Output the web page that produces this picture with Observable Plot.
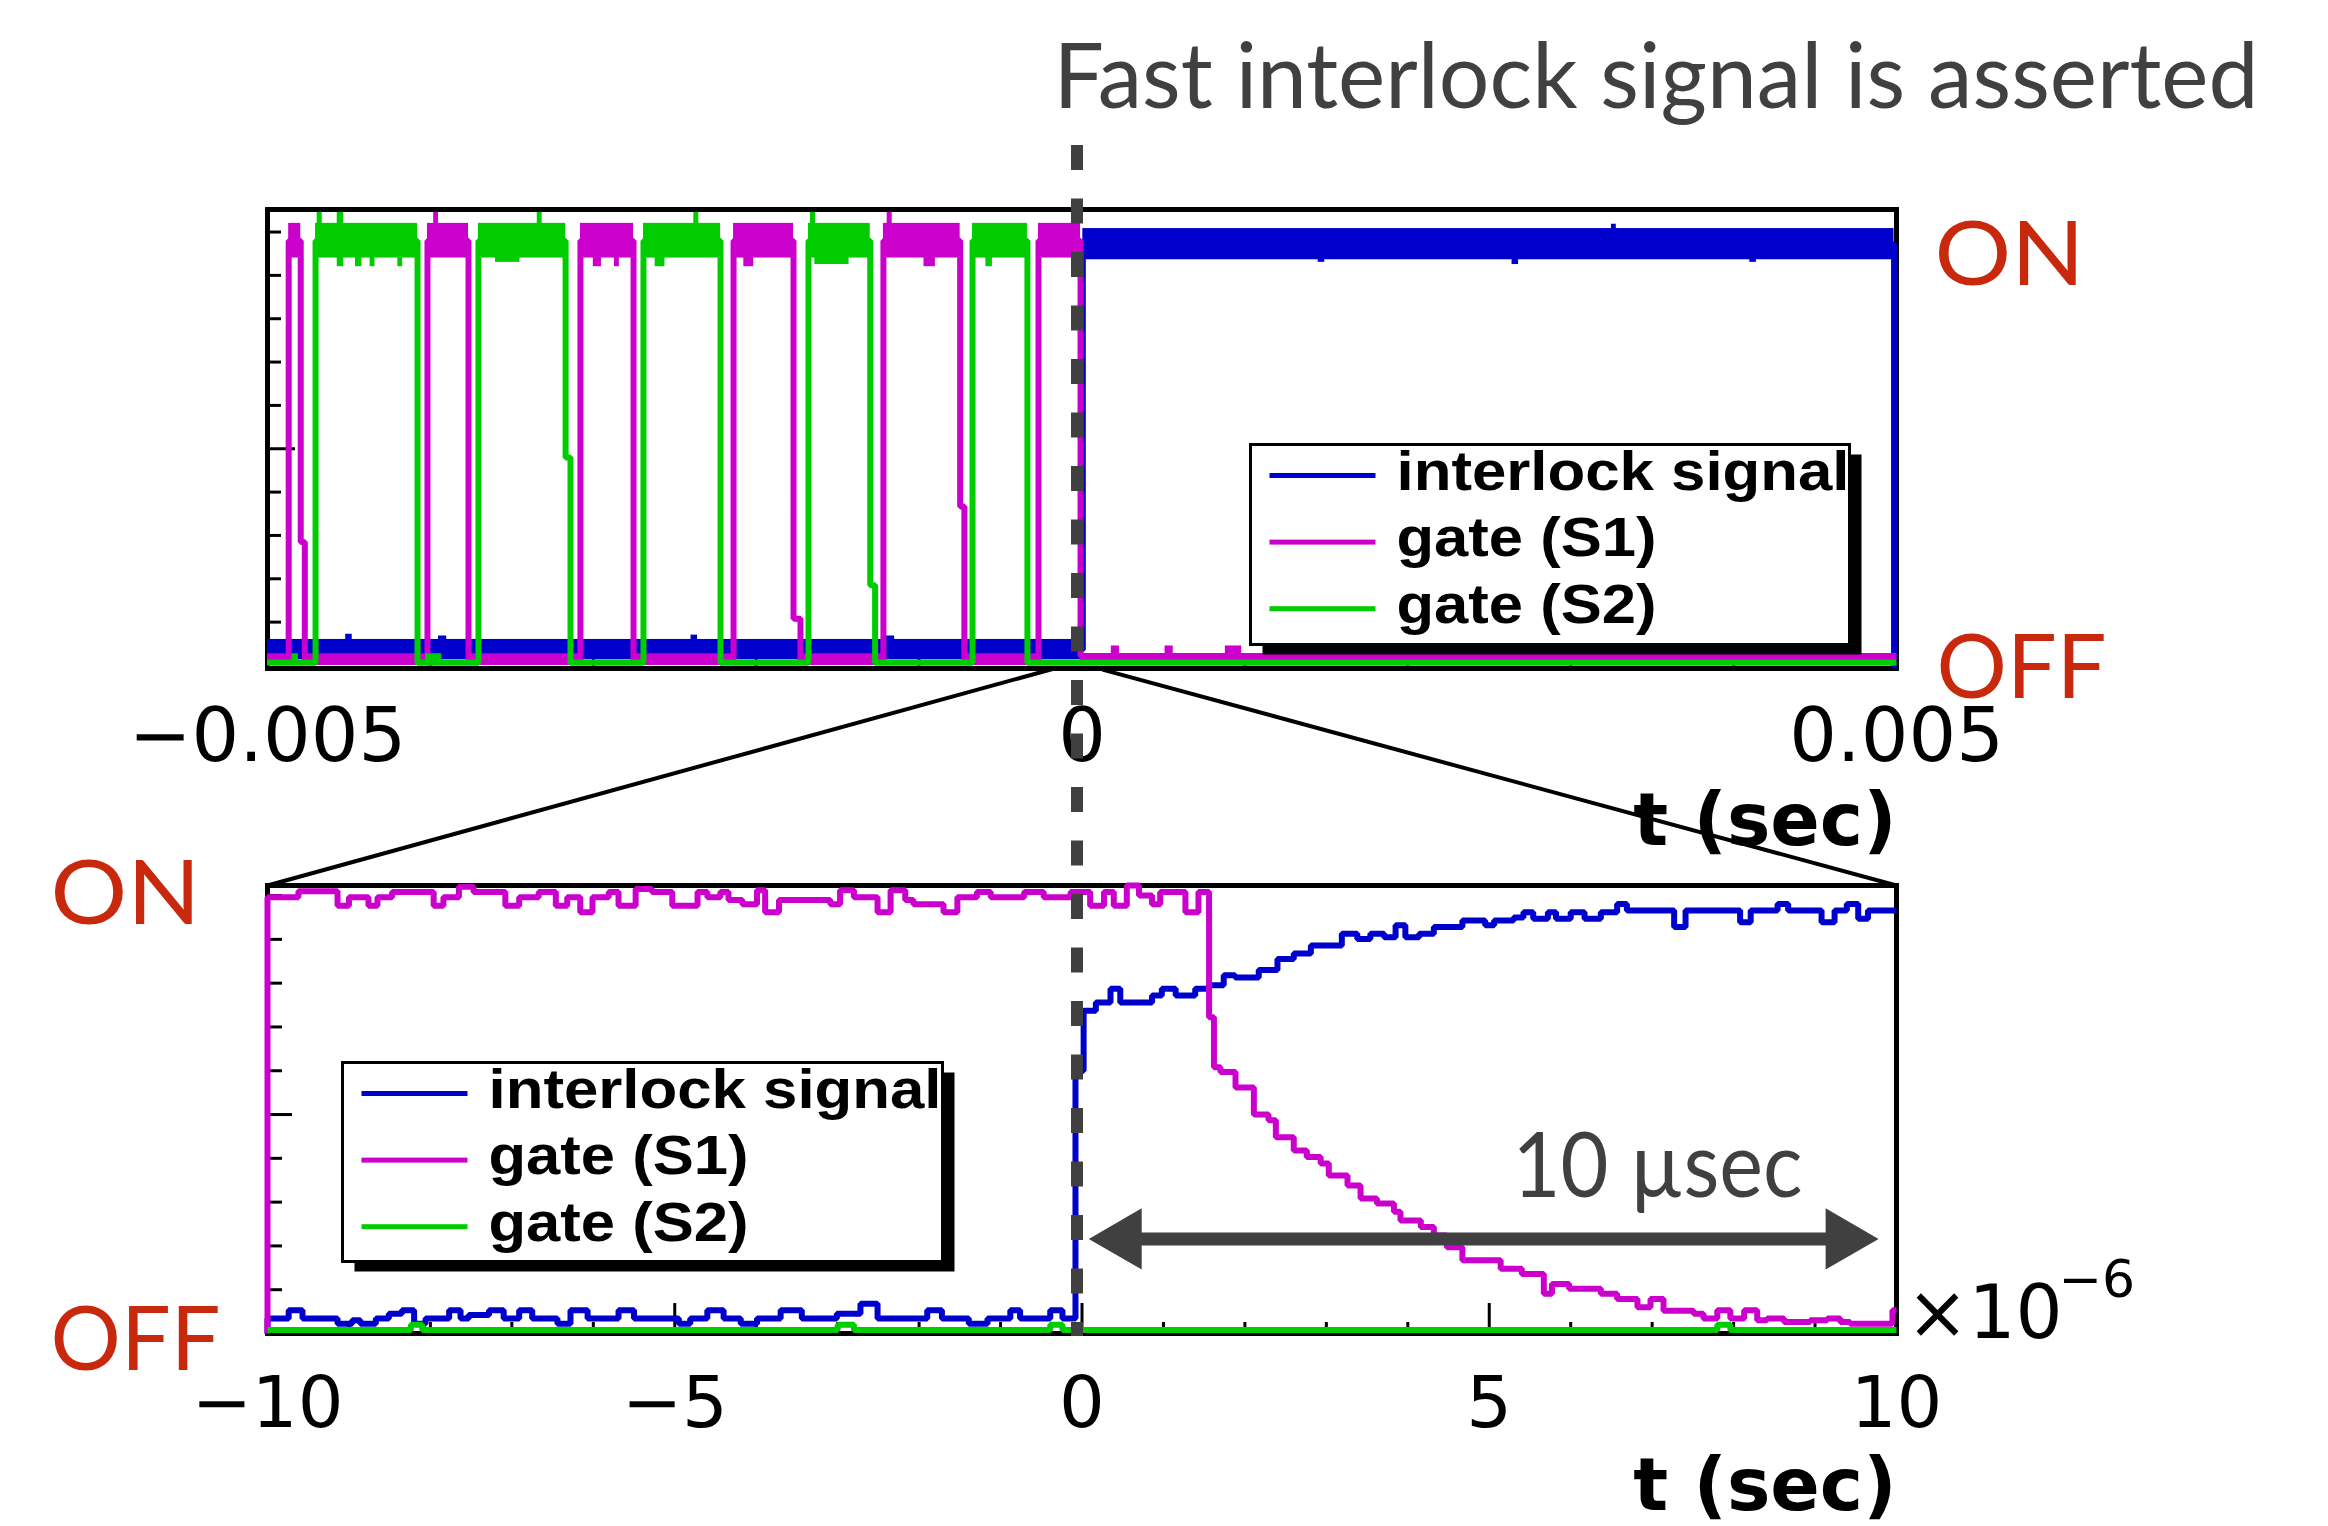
<!DOCTYPE html>
<html>
<head>
<meta charset="utf-8">
<script src="https://cdn.jsdelivr.net/npm/d3@7"></script>
<script src="https://cdn.jsdelivr.net/npm/@observablehq/plot@0.6"></script>
<style>
  html, body { margin: 0; padding: 0; background: #ffffff; }
  #chart { position: relative; width: 2328px; height: 1526px; overflow: hidden; background: #ffffff; }
  #chart > svg { position: absolute; left: 0; top: 0; }
</style>
</head>
<body>
<div id="chart"></div>
<script>
// ================= DATA =================
const seriesNames = ["interlock signal", "gate (S1)", "gate (S2)"];
const seriesColors = ["#0000cc", "#cc00cc", "#00cc00"];

// ---- upper panel: t in seconds, [t, level] step points ----
const topTicksX = [-0.005, 0, 0.005];
const topMinorX = [-0.004, -0.003, -0.002, -0.001, 0.001, 0.002, 0.003, 0.004];
const yMinorTicks = [0.1, 0.2, 0.3, 0.4, 0.6, 0.7, 0.8, 0.9, 1.0];
const yMajorTicks = [0.5];

const topBlue = [[-5e-3, 0.036], [0.005e-3, 0.972], [4.985e-3, 0], [5e-3, 0]];
const topS1 = [
  [-5e-3, 0.013], [-4.870e-3, 0.98], [-4.796e-3, 0.285], [-4.771e-3, 0.013],
  [-4.018e-3, 0.98], [-3.766e-3, 0.013], [-3.079e-3, 0.98], [-2.753e-3, 0.013],
  [-2.139e-3, 0.98], [-1.771e-3, 0.108], [-1.728e-3, 0.013], [-1.219e-3, 0.98],
  [-0.748e-3, 0.367], [-0.722e-3, 0.013], [-0.267e-3, 0.98], [-0.009e-3, 0.022], [5e-3, 0.022]
];
const topS2 = [
  [-5e-3, 0.006], [-4.705e-3, 0.98], [-4.079e-3, 0.006], [-3.705e-3, 0.98],
  [-3.170e-3, 0.48], [-3.140e-3, 0.006], [-2.692e-3, 0.98], [-2.219e-3, 0.006],
  [-1.679e-3, 0.98], [-1.300e-3, 0.185], [-1.270e-3, 0.006], [-0.672e-3, 0.98],
  [-0.335e-3, 0.006], [5e-3, 0.006]
];
// noise band extents (low / high states)
const topBandHigh = [[0.936, 1.008], [0.94, 1.02], [0.94, 1.02]];
const topBandLow = [[0.013, 0.06], [0.0, 0.027], [0.0, 0.012]];
// extra noise spikes / dips: [series, t1, t2, y1, y2]
const topNoise = [
  [0, -5.0e-3, -4.88e-3, 0.0, 0.058], [0, -4.52e-3, -4.48e-3, 0.05, 0.072],
  [0, -3.95e-3, -3.90e-3, 0.05, 0.068], [0, -2.40e-3, -2.36e-3, 0.05, 0.07],
  [0, -1.20e-3, -1.15e-3, 0.05, 0.068], [0, 2.64e-3, 2.68e-3, 0.925, 0.95],
  [0, 3.25e-3, 3.28e-3, 1.0, 1.018], [0, 1.45e-3, 1.49e-3, 0.93, 0.95],
  [0, 4.10e-3, 4.14e-3, 0.93, 0.95],
  [1, -3.98e-3, -3.95e-3, 1.0, 1.045], [1, -1.196e-3, -1.165e-3, 1.0, 1.045],
  [1, -3.00e-3, -2.95e-3, 0.92, 0.96], [1, -2.87e-3, -2.84e-3, 0.92, 0.96],
  [1, -2.076e-3, -2.015e-3, 0.92, 0.96], [1, -0.97e-3, -0.90e-3, 0.92, 0.96],
  [1, 0.18e-3, 0.23e-3, 0.01, 0.045], [1, 0.51e-3, 0.56e-3, 0.01, 0.045],
  [1, 0.88e-3, 0.98e-3, 0.01, 0.045], [1, 1.16e-3, 1.56e-3, 0.01, 0.04],
  [1, 2.79e-3, 2.86e-3, 0.01, 0.045], [1, 4.06e-3, 4.10e-3, 0.01, 0.045],
  [2, -4.695e-3, -4.664e-3, 1.0, 1.045], [2, -4.572e-3, -4.532e-3, 1.0, 1.045],
  [2, -3.344e-3, -3.314e-3, 1.0, 1.045], [2, -2.383e-3, -2.352e-3, 1.0, 1.045],
  [2, -1.667e-3, -1.636e-3, 1.0, 1.045],
  [2, -4.572e-3, -4.532e-3, 0.92, 0.96], [2, -4.46e-3, -4.42e-3, 0.92, 0.96],
  [2, -4.37e-3, -4.34e-3, 0.92, 0.96], [2, -4.20e-3, -4.17e-3, 0.92, 0.96],
  [2, -3.60e-3, -3.45e-3, 0.93, 0.96], [2, -2.62e-3, -2.56e-3, 0.92, 0.96],
  [2, -1.64e-3, -1.43e-3, 0.925, 0.96], [2, -0.59e-3, -0.55e-3, 0.92, 0.96],
  [2, -4.85e-3, -4.81e-3, 0.0, 0.027], [2, -4.03e-3, -3.93e-3, 0.0, 0.027]
];

// ---- lower panel: t in microseconds (axis multiplier ×10^-6) ----
const botTicksX = [-10, -5, 0, 5, 10];
const botMinorX = [-9, -8, -7, -6, -4, -3, -2, -1, 1, 2, 3, 4, 6, 7, 8, 9];
const botBlue = [
  [-10, 0], [-10, 0.034], [-9.74, 0.053], [-9.57, 0.034], [-9.14, 0.022], [-8.96, 0.030],
  [-8.86, 0.022], [-8.67, 0.034], [-8.51, 0.045], [-8.35, 0.053], [-8.20, 0.022],
  [-8.06, 0.034], [-7.77, 0.053], [-7.63, 0.034], [-7.53, 0.042], [-7.28, 0.053],
  [-7.10, 0.034], [-6.91, 0.053], [-6.75, 0.034], [-6.44, 0.022], [-6.28, 0.053],
  [-6.07, 0.034], [-5.69, 0.053], [-5.50, 0.034], [-4.95, 0.022], [-4.81, 0.034],
  [-4.60, 0.053], [-4.40, 0.034], [-4.19, 0.022], [-3.99, 0.034], [-3.70, 0.053],
  [-3.44, 0.034], [-3.01, 0.045], [-2.72, 0.068], [-2.51, 0.034], [-1.90, 0.053],
  [-1.72, 0.034], [-1.39, 0.022], [-1.16, 0.034], [-0.88, 0.053], [-0.76, 0.034],
  [-0.39, 0.053], [-0.24, 0.034], [-0.08, 0.60], [0.02, 0.737], [0.17, 0.756],
  [0.35, 0.787], [0.47, 0.756], [0.86, 0.772], [0.98, 0.787], [1.15, 0.772],
  [1.39, 0.787], [1.56, 0.795], [1.74, 0.818], [1.88, 0.813], [2.17, 0.83],
  [2.40, 0.855], [2.60, 0.868], [2.81, 0.886], [3.19, 0.913], [3.38, 0.901],
  [3.54, 0.913], [3.71, 0.905], [3.85, 0.932], [3.97, 0.905], [4.14, 0.913],
  [4.32, 0.928], [4.67, 0.943], [4.95, 0.932], [5.06, 0.943], [5.30, 0.950],
  [5.42, 0.962], [5.54, 0.947], [5.72, 0.962], [5.82, 0.947], [6.00, 0.962],
  [6.17, 0.947], [6.37, 0.962], [6.57, 0.981], [6.69, 0.966], [7.27, 0.928],
  [7.41, 0.966], [8.08, 0.939], [8.21, 0.966], [8.54, 0.981], [8.67, 0.966],
  [9.08, 0.939], [9.24, 0.966], [9.39, 0.981], [9.53, 0.947], [9.65, 0.966], [10, 0.966]
];
const botS1 = [
  [-10, 0], [-10, 0.996], [-9.62, 1.01], [-9.14, 0.977], [-9.00, 0.996], [-8.76, 0.977],
  [-8.65, 0.996], [-8.47, 1.008], [-7.96, 0.977], [-7.84, 0.996], [-7.65, 1.02],
  [-7.47, 1.008], [-7.08, 0.977], [-6.91, 0.996], [-6.67, 1.008], [-6.46, 0.977],
  [-6.32, 0.996], [-6.16, 0.962], [-6.01, 0.996], [-5.81, 1.008], [-5.69, 0.977],
  [-5.48, 1.015], [-5.28, 1.008], [-5.03, 0.977], [-4.72, 1.008], [-4.60, 0.996],
  [-4.44, 1.008], [-4.34, 0.99], [-4.17, 0.98], [-3.99, 1.012], [-3.89, 0.962],
  [-3.72, 0.99], [-3.09, 0.98], [-2.97, 1.012], [-2.80, 0.996], [-2.51, 0.962],
  [-2.35, 1.012], [-2.17, 0.99], [-2.07, 0.98], [-1.70, 0.962], [-1.53, 0.996],
  [-1.29, 1.008], [-1.12, 0.996], [-0.71, 1.008], [-0.47, 0.996], [-0.14, 1.008],
  [0.10, 0.977], [0.27, 1.008], [0.39, 0.977], [0.55, 1.023], [0.70, 1.0],
  [0.86, 0.98], [0.96, 1.008], [1.27, 0.962], [1.43, 1.008], [1.56, 0.722],
  [1.62, 0.608], [1.70, 0.597], [1.885, 0.562], [2.11, 0.50], [2.29, 0.487],
  [2.38, 0.448], [2.60, 0.418], [2.76, 0.403], [2.93, 0.388], [3.03, 0.361],
  [3.26, 0.338], [3.42, 0.308], [3.62, 0.297], [3.83, 0.278], [3.91, 0.258],
  [4.16, 0.243], [4.32, 0.224], [4.48, 0.197], [4.67, 0.167], [5.14, 0.148],
  [5.40, 0.136], [5.67, 0.091], [5.77, 0.113], [5.98, 0.102], [6.37, 0.091],
  [6.57, 0.079], [6.82, 0.06], [6.98, 0.079], [7.14, 0.052], [7.51, 0.045],
  [7.63, 0.034], [7.80, 0.053], [7.96, 0.034], [8.13, 0.053], [8.29, 0.030],
  [8.41, 0.034], [8.62, 0.026], [8.94, 0.030], [9.15, 0.034], [9.31, 0.026],
  [9.43, 0.022], [9.95, 0.053], [10, 0.053]
];
const botS2 = [
  [-10, 0.008], [-8.24, 0.02], [-8.10, 0.008], [-3.0, 0.02], [-2.8, 0.008],
  [-0.39, 0.02], [-0.24, 0.008], [7.80, 0.02], [7.96, 0.008], [10, 0.008]
];

// ---- annotations ----
const annTitle = "Fast interlock signal is asserted";
const annOn = "ON";
const annOff = "OFF";
const annSpan = "10 µsec";
const axisTitle = "t (sec)";
const expBase = "×10";
const expPower = "−6";
const arrowLevel = 0.216;          // lower-panel y units
const arrowTips = [0.083, 9.78];   // µs
const dashX = 0;                   // t = 0 (interlock asserted)
const dashSpan = [2.713, -0.007];  // lower-panel y units (spans both panels)
const zoomLinks = [
  {x1: -0.35, y1: 1.518, x2: -10, y2: 1.023},
  {x1: 0.252, y1: 1.516, x2: 10, y2: 1.023}
];

// ================= LAYOUT =================
const W = 2328, H = 1526;
const topBox = {left: 267, right: 1896, top: 209, bottom: 668};
const botBox = {left: 267, right: 1896, top: 885, bottom: 1333};
const FW = topBox.right - topBox.left;
const topFH = topBox.bottom - topBox.top;
const botFH = botBox.bottom - botBox.top;
const GRAY = "#404040", RED = "#c8280c";

function margins(b) {
  return {marginLeft: b.left, marginRight: W - b.right, marginTop: b.top, marginBottom: H - b.bottom};
}
function boxFrame(b, r, opts) {
  return Plot.frame({insetLeft: r.l - b.left, insetRight: b.right - r.r,
    insetTop: r.t - b.top, insetBottom: b.bottom - r.b, ...opts});
}
function legendMarks(b, L) {
  const m = [];
  m.push(boxFrame(b, {l: L.l + 12, t: L.t + 10, r: L.r + 12, b: L.b + 10}, {fill: "black", stroke: "none"}));
  m.push(boxFrame(b, L, {fill: "white", stroke: "black", strokeWidth: 3}));
  seriesNames.forEach((name, i) => {
    const cy = L.t + 31 + i * 66.6;
    m.push(boxFrame(b, {l: L.l + 19, r: L.l + 125, t: cy - 2.5, b: cy + 2.5}, {fill: seriesColors[i], stroke: "none"}));
    m.push(Plot.text([name], {frameAnchor: "top-left", dx: L.l + 146 - b.left, dy: cy + 14 - b.top,
      textAnchor: "start", lineAnchor: "bottom", fontFamily: "Liberation Sans", fontWeight: "bold",
      fontSize: 55, fill: "black"}));
  });
  return m;
}
function bands(points, s) {
  const out = [];
  for (let i = 0; i < points.length - 1; i++) {
    const [t, v] = points[i];
    const t2 = points[i + 1][0];
    let bb = null;
    if (v >= 0.9) bb = topBandHigh[s];
    else if (v > 0 && v <= 0.06) bb = topBandLow[s];
    if (bb && t2 > t) out.push({x1: t, x2: t2, y1: bb[0], y2: bb[1]});
  }
  topNoise.filter(d => d[0] === s).forEach(d => out.push({x1: d[1], x2: d[2], y1: d[3], y2: d[4]}));
  return out;
}
const ticksStyle = {stroke: "black", strokeWidth: 3};
const baseStyle = {background: "transparent", fontFamily: "DejaVu Sans", overflow: "visible"};

// ================= UPPER PANEL =================
const topSeries = [topBlue, topS1, topS2];
const topMarks = [
  Plot.frame({stroke: "black", strokeWidth: 5}),
  Plot.ruleY(yMinorTicks, {insetRight: FW - 14, ...ticksStyle}),
  Plot.ruleY(yMajorTicks, {insetRight: FW - 28, ...ticksStyle}),
  Plot.ruleX(topMinorX, {insetTop: topFH - 12, ...ticksStyle}),
  Plot.axisX({ticks: topTicksX, tickSize: 0, tickPadding: 39, tickFormat: d3.format(""),
    fontSize: 75, fontFamily: "DejaVu Sans", label: null}),
];
topSeries.forEach((pts, s) => {
  topMarks.push(Plot.rect(bands(pts, s), {x1: "x1", x2: "x2", y1: "y1", y2: "y2", fill: seriesColors[s]}));
  topMarks.push(Plot.line(pts, {x: d => d[0], y: d => d[1], curve: "step-after",
    stroke: seriesColors[s], strokeWidth: 6, strokeLinejoin: "miter", strokeLinecap: "butt"}));
});
topMarks.push(...legendMarks(topBox, {l: 1250, t: 444, r: 1849, b: 644}));
topMarks.push(
  Plot.text([axisTitle], {frameAnchor: "bottom-right", dy: 176, textAnchor: "end", lineAnchor: "bottom",
    fontFamily: "DejaVu Sans", fontWeight: "bold", fontSize: 73, fill: "black"}),
  Plot.text([annOn], {frameAnchor: "top-right", dx: 38, dy: 284 - topBox.top, textAnchor: "start",
    lineAnchor: "bottom", fontFamily: "Lato", fontSize: 90, fill: RED}),
  Plot.text([annOff], {frameAnchor: "bottom-right", dx: 40, dy: 697 - topBox.bottom, textAnchor: "start",
    lineAnchor: "bottom", fontFamily: "Lato", fontSize: 90, fill: RED}),
  Plot.text([annTitle], {frameAnchor: "top-left", dx: 1053 - topBox.left, dy: 107 - topBox.top,
    textAnchor: "start", lineAnchor: "bottom", fontFamily: "Lato", fontSize: 92, fill: GRAY})
);

const topPlot = Plot.plot({
  width: W, height: H, ...margins(topBox),
  x: {domain: [-0.005, 0.005]},
  y: {domain: [-0.007, 1.052], axis: null},
  style: baseStyle,
  marks: topMarks
});

// ================= LOWER PANEL =================
const botSeries = [botBlue, botS1, botS2];
const botMarks = [
  Plot.frame({stroke: "black", strokeWidth: 5}),
  Plot.ruleY(yMinorTicks, {insetRight: FW - 15, ...ticksStyle}),
  Plot.ruleY(yMajorTicks, {insetRight: FW - 25, ...ticksStyle}),
  Plot.ruleX(botMinorX, {insetTop: botFH - 11, ...ticksStyle}),
  Plot.ruleX([-5, 0, 5], {insetTop: botFH - 30, ...ticksStyle}),
  Plot.axisX({ticks: botTicksX, tickSize: 0, tickPadding: 42, tickFormat: d3.format(""),
    fontSize: 72, fontFamily: "DejaVu Sans", label: null}),
];
botSeries.forEach((pts, s) => {
  botMarks.push(Plot.line(pts, {x: d => d[0], y: d => d[1], curve: "step-after",
    stroke: seriesColors[s], strokeWidth: 6, strokeLinejoin: "miter", strokeLinecap: "butt"}));
});
botMarks.push(...legendMarks(botBox, {l: 342, t: 1062, r: 942, b: 1261}));
botMarks.push(
  Plot.ruleY([arrowLevel], {x1: arrowTips[0], x2: arrowTips[1], insetLeft: 40, insetRight: 40,
    stroke: GRAY, strokeWidth: 13}),
  Plot.dot([arrowTips[0]], {x: d => d, y: arrowLevel, symbol: "triangle", r: 22.7, rotate: -90, dx: 35.3,
    fill: GRAY, stroke: "none"}),
  Plot.dot([arrowTips[1]], {x: d => d, y: arrowLevel, symbol: "triangle", r: 22.7, rotate: 90, dx: -35.3,
    fill: GRAY, stroke: "none"}),
  Plot.text([annSpan], {frameAnchor: "top-left", dx: 1512 - botBox.left, dy: 1196 - botBox.top,
    textAnchor: "start", lineAnchor: "bottom", fontFamily: "Lato", fontSize: 91, fill: GRAY}),
  Plot.text([axisTitle], {frameAnchor: "bottom-right", dy: 176, textAnchor: "end", lineAnchor: "bottom",
    fontFamily: "DejaVu Sans", fontWeight: "bold", fontSize: 73, fill: "black"}),
  Plot.text([expBase], {frameAnchor: "bottom-right", dx: 10, dy: 1337 - botBox.bottom, textAnchor: "start",
    lineAnchor: "bottom", fontFamily: "DejaVu Sans", fontSize: 74, fill: "black"}),
  Plot.text([expPower], {frameAnchor: "bottom-right", dx: 162, dy: 1296 - botBox.bottom, textAnchor: "start",
    lineAnchor: "bottom", fontFamily: "DejaVu Sans", fontSize: 52, fill: "black"}),
  Plot.text([annOn], {frameAnchor: "top-left", dx: 50 - botBox.left, dy: 923 - botBox.top, textAnchor: "start",
    lineAnchor: "bottom", fontFamily: "Lato", fontSize: 90, fill: RED}),
  Plot.text([annOff], {frameAnchor: "bottom-left", dx: 50 - botBox.left, dy: 1369 - botBox.bottom, textAnchor: "start",
    lineAnchor: "bottom", fontFamily: "Lato", fontSize: 90, fill: RED}),
  Plot.link(zoomLinks, {x1: "x1", y1: "y1", x2: "x2", y2: "y2", stroke: "black", strokeWidth: 4}),
  Plot.ruleX([dashX], {y1: dashSpan[0], y2: dashSpan[1], dx: -5, stroke: GRAY, strokeWidth: 12,
    strokeDasharray: "25,28.5"})
);

const botPlot = Plot.plot({
  width: W, height: H, ...margins(botBox),
  x: {domain: [-10, 10]},
  y: {domain: [0, 1.023], axis: null},
  style: baseStyle,
  marks: botMarks
});

const host = document.getElementById("chart");
host.appendChild(topPlot);
host.appendChild(botPlot);

// horizontal stretch of a few labels to match the reference glyph widths
const stretchWidths = {
  "Fast interlock signal is asserted": 1205, "ON": 150, "OFF": 170, "10 µsec": 290,
  "interlock signal": 453, "gate (S1)": 260, "gate (S2)": 260
};
[topPlot, botPlot].forEach(svg => {
  d3.select(svg).selectAll("text").each(function () {
    const w = stretchWidths[this.textContent];
    if (w) { this.setAttribute("textLength", w); this.setAttribute("lengthAdjust", "spacingAndGlyphs"); }
  });
});
</script>
</body>
</html>
